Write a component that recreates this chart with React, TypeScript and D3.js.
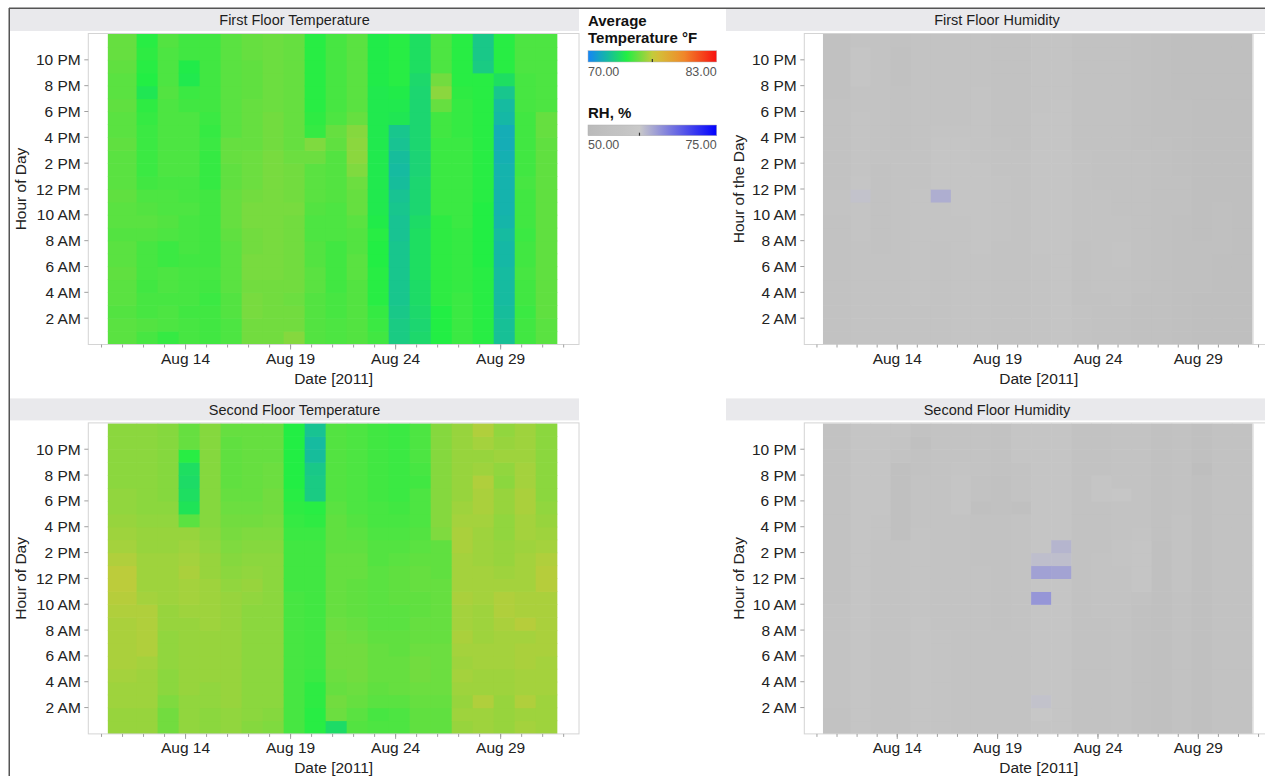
import React from "react";
import * as d3 from "d3";

const FONT = '"Liberation Sans", Arial, Helvetica, sans-serif';

// ---- categories ----
const hours = d3.range(24); // 0..23, hour of day
const dayBins = d3.range(10, 31); // 21 daily bins, Aug 10 .. Aug 30
const DATA_START = 10.3; // first bin starts part-way through Aug 10
const BIN_OFFSET = 0.67; // bins run from d+0.67 to d+1.67
const X_DOMAIN = [9.37, 32.73];

const xMajorDays = [14, 19, 24, 29];
const xMajorLabels = ["Aug 14", "Aug 19", "Aug 24", "Aug 29"];
const xMinorDays = d3.range(10, 33);
const yTickHours = [2, 4, 6, 8, 10, 12, 14, 16, 18, 20, 22];
const yTickLabels = ["2 AM", "4 AM", "6 AM", "8 AM", "10 AM", "12 PM", "2 PM", "4 PM", "6 PM", "8 PM", "10 PM"];

// ---- values: one array per day bin, hour 0 .. 23 ----
const firstFloorTemp: number[][] = [
  [74.8,74.8,74.7,74.8,74.8,74.9,74.8,74.8,74.7,74.8,74.8,74.9,74.8,74.8,74.8,74.9,74.8,74.8,74.9,74.8,74.8,74.9,75.0,75.0],
  [74.5,74.7,74.5,74.5,74.4,74.5,74.5,74.5,74.7,74.8,74.7,74.6,74.4,74.3,74.3,74.3,74.3,74.2,74.1,73.6,73.9,74.0,74.1,74.0],
  [74.2,74.6,74.6,74.5,74.6,74.6,74.3,74.3,74.6,74.7,74.6,74.6,74.5,74.6,74.6,74.6,74.6,74.6,74.6,74.7,74.6,74.6,74.6,74.7],
  [74.5,74.5,74.4,74.5,74.5,74.5,74.4,74.5,74.5,74.5,74.6,74.5,74.5,74.6,74.6,74.6,74.6,74.6,74.4,74.3,73.7,73.8,74.4,74.4],
  [74.4,74.4,74.4,74.3,74.4,74.5,74.4,74.4,74.4,74.4,74.4,74.4,74.2,74.2,74.2,74.3,74.2,74.3,74.4,74.4,74.4,74.4,74.4,74.4],
  [74.6,74.6,74.7,74.7,74.8,74.8,74.8,74.8,74.9,75.0,75.0,75.0,74.9,74.9,75.0,75.0,74.8,74.8,74.8,74.8,74.8,74.8,74.8,74.8],
  [75.2,75.2,75.3,75.3,75.2,75.3,75.3,75.2,75.2,75.3,75.3,75.2,75.1,75.1,75.1,75.0,75.0,75.0,75.0,74.9,74.9,74.9,75.0,75.0],
  [75.2,75.2,75.2,75.2,75.2,75.3,75.3,75.3,75.3,75.3,75.3,75.3,75.3,75.3,75.3,75.2,75.2,75.2,75.1,75.1,75.1,75.1,75.1,75.1],
  [75.5,75.2,75.2,75.1,75.2,75.2,75.2,75.2,75.2,75.2,75.3,75.2,75.2,75.2,75.1,75.0,75.0,75.0,75.0,75.0,75.0,75.0,75.0,75.0],
  [74.7,74.7,74.7,74.7,74.8,74.8,74.7,74.7,74.6,74.6,74.7,74.8,74.8,74.8,75.1,75.4,74.2,74.1,74.0,74.0,74.0,74.0,74.0,74.0],
  [74.6,74.6,74.5,74.5,74.4,74.4,74.4,74.4,74.6,74.6,74.6,74.7,74.7,74.7,74.7,74.9,75.0,74.6,74.5,74.5,74.5,74.5,74.5,74.5],
  [74.7,74.7,74.7,74.7,74.7,74.8,74.8,74.7,74.7,74.8,75.0,75.0,75.1,75.4,75.6,75.6,75.5,75.0,74.8,74.8,74.8,74.8,74.8,74.8],
  [74.4,74.3,74.2,74.0,74.0,74.0,73.9,73.9,74.0,73.8,73.7,73.7,73.7,73.7,73.7,73.7,73.7,73.7,73.7,73.7,73.8,73.8,73.8,73.8],
  [72.6,72.6,72.5,72.4,72.4,72.4,72.4,72.4,72.3,72.3,72.4,72.3,72.1,72.0,72.1,72.3,72.4,73.6,73.7,73.8,74.0,74.0,74.0,74.0],
  [73.1,73.0,73.1,73.2,73.2,73.3,73.3,73.3,73.3,73.2,73.0,73.0,73.0,72.9,72.9,73.0,73.0,73.0,73.0,73.0,73.1,73.3,73.3,73.3],
  [73.9,73.9,73.9,74.1,74.1,74.1,74.1,74.1,74.1,74.1,74.3,74.3,74.3,74.3,74.3,74.3,74.4,74.4,75.0,75.6,75.2,74.6,74.6,74.6],
  [74.3,74.3,74.3,74.3,74.2,74.2,74.2,74.2,74.2,74.3,74.3,74.3,74.3,74.3,74.3,74.3,74.2,74.2,74.2,74.1,74.0,74.0,74.0,74.0],
  [74.0,74.0,74.0,74.0,74.0,74.0,73.9,73.9,73.9,73.9,73.9,74.0,74.0,74.0,74.0,74.0,74.0,74.0,74.0,74.0,74.0,72.6,72.5,72.5],
  [72.2,72.2,72.1,72.0,72.0,72.0,71.9,71.9,72.0,71.8,71.7,71.7,71.7,71.7,71.6,71.5,71.5,71.9,72.0,72.4,73.3,74.0,74.0,74.0],
  [74.4,74.4,74.3,74.4,74.4,74.5,74.4,74.4,74.3,74.4,74.4,74.4,74.5,74.4,74.4,74.4,74.4,74.4,74.5,74.5,74.5,74.6,74.6,74.6],
  [74.8,74.8,74.9,74.9,74.9,74.9,74.9,74.9,74.9,74.9,74.9,74.9,74.9,74.9,74.9,74.9,75.0,75.0,74.6,74.6,74.6,74.6,74.6,74.6],
];

const secondFloorTemp: number[][] = [
  [75.8,75.8,75.9,75.9,76.0,76.1,76.1,76.1,76.1,76.2,76.3,76.4,76.4,76.2,76.0,75.9,75.8,75.7,75.7,75.6,75.6,75.6,75.6,75.6],
  [75.8,75.8,75.9,75.9,75.9,76.0,76.2,76.2,76.2,76.2,76.0,75.9,75.9,75.9,75.8,75.8,75.7,75.6,75.6,75.6,75.6,75.6,75.6,75.6],
  [75.2,75.2,75.4,75.6,75.6,75.7,75.7,75.7,75.8,75.8,75.9,75.9,75.9,75.9,75.8,75.8,75.7,75.6,75.5,75.5,75.5,75.5,75.5,75.5],
  [75.7,75.7,75.7,75.8,75.8,75.8,75.8,75.8,75.8,75.9,76.0,76.0,76.1,76.0,75.9,75.8,74.8,73.5,73.3,73.2,73.3,74.0,75.0,75.0],
  [75.6,75.6,75.7,75.7,75.8,75.8,75.8,75.8,75.9,75.9,75.9,75.9,75.8,75.8,75.7,75.6,75.5,75.5,75.5,75.5,75.5,75.5,75.5,75.5],
  [75.7,75.7,75.8,75.8,75.8,75.8,75.8,75.8,75.8,75.8,75.8,75.7,75.6,75.5,75.4,75.3,75.2,75.1,75.0,74.9,74.9,74.9,74.9,75.0],
  [75.5,75.6,75.6,75.6,75.6,75.6,75.6,75.6,75.6,75.6,75.7,75.8,75.7,75.6,75.5,75.4,75.2,75.1,75.0,75.0,75.0,75.0,75.0,75.0],
  [75.4,75.5,75.6,75.6,75.6,75.6,75.6,75.6,75.6,75.6,75.6,75.6,75.6,75.6,75.5,75.4,75.3,75.2,75.2,75.1,75.1,75.0,75.0,75.0],
  [74.5,74.5,74.5,74.5,74.5,74.5,74.5,74.5,74.5,74.5,74.5,74.4,74.4,74.4,74.4,74.3,74.2,74.1,74.0,73.9,73.9,73.9,73.9,73.9],
  [74.0,74.0,74.1,74.1,74.3,74.4,74.4,74.4,74.4,74.4,74.4,74.4,74.4,74.4,74.4,74.3,74.1,74.0,72.6,72.6,72.5,72.1,72.0,72.3],
  [73.2,75.1,75.2,75.0,75.1,75.2,75.2,75.2,75.1,75.0,75.0,75.0,75.0,75.0,74.9,74.9,74.9,74.8,74.7,74.7,74.7,74.7,74.7,74.7],
  [74.7,74.8,75.0,75.1,75.2,75.2,75.2,75.1,75.0,74.9,74.9,74.9,75.0,75.0,74.9,74.8,74.7,74.6,74.6,74.6,74.6,74.6,74.6,74.6],
  [74.6,74.5,74.8,74.9,75.0,75.0,75.0,74.9,74.8,74.8,74.8,74.8,74.8,74.7,74.7,74.6,74.5,74.5,74.4,74.4,74.4,74.4,74.4,74.4],
  [74.6,74.6,74.8,75.0,75.0,75.0,74.9,74.9,74.8,74.8,74.9,74.9,74.9,74.8,74.7,74.6,74.5,74.4,74.3,74.3,74.3,74.3,74.3,74.3],
  [74.9,74.9,75.0,75.1,75.2,75.2,75.1,75.0,75.0,74.9,74.9,75.0,75.0,74.9,74.8,74.7,74.6,74.6,74.6,74.4,74.5,74.6,74.6,74.6],
  [74.9,74.9,75.0,75.1,75.1,75.1,75.1,75.0,75.0,75.0,75.0,75.0,74.9,74.9,74.9,75.4,75.5,75.5,75.5,75.5,75.5,75.5,75.5,75.5],
  [75.8,75.9,75.8,75.9,76.0,75.9,76.0,76.1,76.0,76.0,76.1,76.0,76.0,76.0,76.1,76.1,76.0,75.9,75.8,75.8,75.8,75.8,75.8,75.8],
  [75.9,75.9,76.2,75.9,75.9,76.0,76.0,75.9,75.9,75.9,76.0,76.0,76.0,75.9,75.9,75.9,76.0,76.1,76.1,76.2,75.9,75.8,76.0,76.2],
  [75.8,75.8,75.8,75.9,75.9,76.0,76.0,76.0,76.1,76.2,76.2,76.0,75.9,75.8,75.8,75.7,75.7,75.8,75.8,75.6,75.7,75.9,75.8,75.7],
  [76.0,75.9,76.2,76.0,76.0,76.1,76.1,76.0,76.3,76.1,76.1,76.0,76.0,76.0,75.9,76.0,76.0,76.1,76.1,76.0,76.0,75.9,75.9,75.9],
  [75.9,75.9,75.9,76.0,76.0,76.0,76.1,76.1,76.1,76.1,76.1,76.3,76.3,76.2,76.0,75.9,75.8,75.7,75.6,75.6,75.6,75.6,75.6,75.6],
];

const firstFloorRH: number[][] = [
  [55.5,55.5,55,55,55.5,55.5,55,55,55.5,55.5,56,56,55.5,55.5,55.5,55,55,55,55,54.5,54.5,54.5,54.5,54.5],
  [56,56,56,56,56,56,56,56,56.5,56.5,56.5,60.5,57,56.5,56.5,56.5,56.5,56.5,56,56,57.5,57.5,57.5,56],
  [56,56,56,56,56,56,56,55.5,55.5,55,55,55,55.5,55.5,56,56,56,56,56,56,56,56,56,56],
  [56,56,56,56,56,56,56,56,56,56,56,56,56,56,56,55.5,55.5,55,55,55,54.5,54.5,54.5,55.5],
  [56,56,56,56.5,56.5,56.5,56.5,56.5,56.5,56.5,56.5,56.5,56,56,56,56,56,56,56,56,56,56,56,56],
  [56,56,56,56,56,56,56,56,56.5,56.5,56.5,62,57,57.5,57.5,57,56.5,56,56,56,56,56,56,56],
  [56.5,56.5,56.5,56.5,56.5,56.5,56.5,56.5,56.5,56.5,57,57,57,57,57,57,56.5,56,56,56,56,56,56,56],
  [56.5,56.5,56.5,56.5,56.5,56.5,56.5,57,57,57,57,57,57,57,56.5,56.5,56.5,56.5,56.5,56.5,56,56,56,56],
  [56,56,56,56,56,56,56,56,56.5,56.5,56.5,56.5,56.5,56,56,56,55.5,55.5,55.5,55.5,55.5,55.5,55.5,55.5],
  [56,56,56,56,56,56,56,56,56,56,56,56,56,56,56,55,55,55.5,55.5,55.5,55.5,55.5,55.5,55.5],
  [56.5,56.5,56.5,56.5,56.5,56.5,56.5,57,57,57,57,57,57,57,57.5,57.5,57,57,56.5,56.5,56.5,56.5,56.5,56.5],
  [57,57,57,57,57,57,57,57,57,57,57.5,57.5,57.5,57.5,57.5,57.5,57,57,57,56.5,56.5,56.5,56.5,56.5],
  [56,56,56,55.5,55.5,55.5,55.5,55.5,56,56,56,56,56,56,56,55.5,55.5,55.5,55.5,55.5,55.5,55.5,55.5,55.5],
  [55.5,55.5,55.5,55.5,56,56,56,56,56,56,56,56,55.5,55.5,55.5,55.5,55.5,55.5,55,55,55,55,55,55],
  [55.5,55.5,55.5,56,56,56,56.5,56.5,56,56,55.5,55.5,55.5,55.5,55,55,55,55,55,55,55,55,55,55],
  [54.5,54.5,54.5,54.5,55,55,55,55,55,55,55,55,55,55,55,54.5,54.5,54.5,54.5,54.5,54.5,54.5,54.5,54.5],
  [54.5,54.5,54.5,54.5,54.5,54.5,54.5,54.5,54.5,54.5,54.5,54.5,54.5,54.5,54.5,54.5,54,54,54,54,54,54,54,54],
  [54,54,54,54,54,54,54,54,54,54,54.5,54.5,54.5,54,54,54,54,54,54,53.5,53.5,53.5,53.5,53.5],
  [53.5,53.5,53.5,53.5,54,54,54,54,53.5,53.5,53.5,53.5,53.5,53.5,53.5,53.5,53,53,53,53.5,53.5,53.5,53.5,53.5],
  [53.5,53.5,53.5,53.5,53.5,53.5,53.5,54,54,54,54,53.5,53.5,53.5,53.5,53.5,53.5,53.5,53.5,53.5,53,53,53,53],
  [53.5,53.5,53.5,53.5,53.5,53.5,53.5,53.5,53.5,53.5,53.5,53.5,53,53,53,53,53,53,53.5,53.5,53.5,53.5,53.5,53.5],
];

const secondFloorRH: number[][] = [
  [55.5,55.5,56,56,56,56,56,56,56,56,55.5,55.5,55.5,55.5,55.5,55.5,55.5,55.5,55.5,55.5,55.5,55.5,55.5,55.5],
  [57,57,57,57,57,57,57,57,57,57,57,57,57,57,57,57,57,57.5,57.5,57.5,57.5,57.5,57.5,57.5],
  [56,56,56,56,56,56,56,56,56,56,56,56,56,56,56,56.5,56.5,57,57,57.5,57.5,57.5,57.5,57.5],
  [56,56,56,56,56,56,56,56,56,56,56,56,56,56,56,54,54,54,54,54,54,56,56.5,57],
  [57.5,57.5,57.5,57.5,57.5,57.5,57,57,57,56.5,56.5,56.5,56.5,56.5,56.5,56.5,56,56,56,56,55.5,55,54,55.5],
  [56.5,56.5,56.5,56.5,56.5,56.5,56.5,56.5,56,56,56,56,56,56,56,56,56,56,56,56,56,56,56,56],
  [56,56,56,56,56,56,56,56,56,56,56,56,56,56,56,56,56,57.5,57.5,57,56.5,56,56,56],
  [56,56,56,56,56,56,56,56,56,56,56,56,56,55.5,55.5,55.5,55.5,54,55.5,55.5,56,56,56,56],
  [56,56,56,56,56,56,56,56,55.5,55.5,55,55,55,55,55,55,55,54.5,54.5,54.5,55,55,55,55],
  [56,56,56,56,56,56,56,56,56,56,56,56,56,56,56,56,56,54,56,56,56,57.5,57.5,57],
  [57.5,58.5,60.5,57.5,57.5,57.5,57.5,57.5,57.5,57,63.8,57.5,63,60.8,57.5,57.5,57.5,57.5,57.5,57,57.5,57.5,57.5,57],
  [57.5,57.5,57.5,57.5,57.5,57.5,57.5,57.5,57.5,57.5,57.5,57.5,62.8,60.8,61.5,57.5,57.5,57.5,57.5,57.5,57.5,57.5,57.5,57.5],
  [55,55,55,55,55,55,55,55,55,55,55.5,55.5,55.5,55,55,55,55,55,55,55,55,55,55,55],
  [55.5,55.5,55.5,55.5,55.5,55.5,55.5,55.5,55.5,56,56,56,56,56,55.5,55.5,55.5,55.5,57.5,57,55.5,55.5,55.5,55.5],
  [56,56,56,56,56,56,56,56,56,56,56,56,56,56.5,56.5,56,56,56,58,56,56,56,56,56],
  [54.5,54.5,54.5,54.5,54.5,54.5,54.5,54.5,54.5,54.5,55,57.5,57.5,57.5,57.5,56.5,56,56,56,56,56,56,56,56],
  [54,54,54,54,54,54,54,54,54,54,54,54,54,54,54,54.5,54.5,54.5,54.5,54.5,54.5,54.5,54.5,54.5],
  [55.5,55.5,55.5,55.5,55.5,55.5,55.5,55.5,55.5,55.5,55.5,56,56,56,56,56,56,55.5,55.5,55.5,55.5,55.5,55.5,55.5],
  [54,54,54,54,54,54,54,54,54,54,54,54,54,54,54,54,54,54,54,54,52.5,54,54,54],
  [55,55,55,55,55,55,55,55,55,55,55.5,55.5,55.5,55.5,55.5,55,55,55,55,55,55,55,55,55],
  [55.5,55.5,55.5,55.5,55.5,55.5,55.5,55.5,55.5,55.5,55.5,55.5,55.5,55.5,55.5,55.5,55.5,55.5,55.5,55.5,55.5,55.5,55.5,55.5],
];

// ---- colour scales ----
const TEMP_RANGE = [70, 83];
const TEMP_LABELS = ["70.00", "83.00"];
const TEMP_MARK = 76.5;
const RH_RANGE = [50, 75];
const RH_LABELS = ["50.00", "75.00"];
const RH_MARK = 60;

const tempColor = d3
  .scaleLinear<string>()
  .domain([70, 71.9, 73.9, 76.7, 79.6, 83])
  .range(["#1585f5", "#15b8a5", "#22ee44", "#cfc83a", "#f08a2a", "#f81010"])
  .interpolate(d3.interpolateRgb)
  .clamp(true);

const rhColor = d3
  .scaleLinear<string>()
  .domain([50, 60, 75])
  .range(["#bababa", "#c9c9c9", "#0000ff"])
  .interpolate(d3.interpolateRgb)
  .clamp(true);

type PanelProps = {
  title: string;
  yTitle: string;
  data: number[][];
  color: (v: number) => string;
  hx0: number;
  hx1: number;
  fx0: number;
  fx1: number;
  top: number;
  yTitleX: number;
  edgeLine?: boolean;
};

function Panel(p: PanelProps) {
  const plotTop = p.top + 25;
  const plotBottom = p.top + 335;
  const x = d3.scaleLinear().domain(X_DOMAIN).range([p.fx0, p.fx1]);
  const y = d3.scaleLinear().domain([0, 24]).range([plotBottom, plotTop]);
  const cells: React.ReactNode[] = [];
  dayBins.forEach((d, i) => {
    const c0 = i === 0 ? DATA_START : d + BIN_OFFSET;
    const c1 = d + 1 + BIN_OFFSET;
    const col = p.data[i] || [];
    hours.forEach((h) => {
      const v = col[h];
      if (v === undefined) return;
      const x0 = x(c0);
      const x1 = x(c1);
      const y0 = y(h + 1);
      const y1 = y(h);
      cells.push(
        <rect
          key={`${i}-${h}`}
          x={x0}
          y={y0}
          width={x1 - x0 + 0.6}
          height={y1 - y0 + 0.6}
          fill={p.color(v)}
        />
      );
    });
  });
  const cx = (p.fx0 + p.fx1) / 2;
  const cy = (plotTop + plotBottom) / 2;
  const cellEnd = x(dayBins[dayBins.length - 1] + 1 + BIN_OFFSET);
  return (
    <g>
      <rect x={p.hx0} y={p.top} width={p.hx1 - p.hx0} height={22} fill="#e9e9ec" />
      <text
        x={(p.hx0 + p.hx1) / 2}
        y={p.top + 11}
        dy="0.36em"
        textAnchor="middle"
        fontSize={14.5}
        fill="#1e1e1e"
      >
        {p.title}
      </text>
      <g>{cells}</g>
      {p.edgeLine && (
        <line x1={cellEnd + 1} x2={cellEnd + 1} y1={plotTop} y2={plotBottom} stroke="#dcdcdc" strokeWidth={1.5} />
      )}
      <rect
        x={p.fx0}
        y={plotTop - 0.5}
        width={p.fx1 - p.fx0}
        height={plotBottom - plotTop + 1}
        fill="none"
        stroke="#d4d4d4"
        strokeWidth={1}
      />
      {xMinorDays.map((d) => (
        <line key={`mn${d}`} x1={x(d)} x2={x(d)} y1={plotBottom + 0.5} y2={plotBottom + 3.5} stroke="#a0a0a0" />
      ))}
      {xMajorDays.map((d, i) => (
        <g key={`mj${d}`}>
          <line x1={x(d)} x2={x(d)} y1={plotBottom + 0.5} y2={plotBottom + 5.5} stroke="#a0a0a0" />
          <text x={x(d)} y={plotBottom + 20} textAnchor="middle" fontSize={15.5} fill="#222">
            {xMajorLabels[i]}
          </text>
        </g>
      ))}
      <text x={cx} y={plotBottom + 40} textAnchor="middle" fontSize={15.5} fill="#222">
        Date [2011]
      </text>
      {yTickHours.map((h, i) => (
        <g key={`yt${h}`}>
          <line x1={p.fx0 - 4} x2={p.fx0} y1={y(h)} y2={y(h)} stroke="#a0a0a0" />
          <text x={p.fx0 - 7.5} y={y(h)} dy="0.36em" textAnchor="end" fontSize={15.5} fill="#222">
            {yTickLabels[i]}
          </text>
        </g>
      ))}
      <text
        transform={`translate(${p.yTitleX},${cy}) rotate(-90)`}
        dy="0.36em"
        textAnchor="middle"
        fontSize={15.5}
        fill="#222"
      >
        {p.yTitle}
      </text>
    </g>
  );
}

function Legend() {
  const lx0 = 588;
  const lx1 = 716.7;
  const tScale = d3.scaleLinear().domain(TEMP_RANGE).range([lx0, lx1]);
  const rScale = d3.scaleLinear().domain(RH_RANGE).range([lx0, lx1]);
  const stops = d3.range(0, 1.0001, 0.05);
  return (
    <g>
      <defs>
        <linearGradient id="tempGrad" x1="0" x2="1" y1="0" y2="0">
          {stops.map((t) => (
            <stop key={t} offset={t} stopColor={tempColor(TEMP_RANGE[0] + t * (TEMP_RANGE[1] - TEMP_RANGE[0]))} />
          ))}
        </linearGradient>
        <linearGradient id="rhGrad" x1="0" x2="1" y1="0" y2="0">
          {stops.map((t) => (
            <stop key={t} offset={t} stopColor={rhColor(RH_RANGE[0] + t * (RH_RANGE[1] - RH_RANGE[0]))} />
          ))}
        </linearGradient>
      </defs>
      <text x={lx0} y={26} fontSize={15} fontWeight="bold" fill="#111">
        Average
      </text>
      <text x={lx0} y={43} fontSize={15} fontWeight="bold" fill="#111">
        Temperature °F
      </text>
      <rect x={lx0} y={50.7} width={lx1 - lx0} height={11.3} fill="url(#tempGrad)" stroke="#b8b8b8" strokeWidth={0.5} />
      <line x1={tScale(TEMP_MARK)} x2={tScale(TEMP_MARK)} y1={59} y2={62} stroke="#333" strokeWidth={1.2} />
      <text x={lx0} y={75.5} fontSize={12.5} fill="#555">
        {TEMP_LABELS[0]}
      </text>
      <text x={lx1} y={75.5} fontSize={12.5} fill="#555" textAnchor="end">
        {TEMP_LABELS[1]}
      </text>

      <text x={lx0} y={117.5} fontSize={15} fontWeight="bold" fill="#111">
        RH, %
      </text>
      <rect x={lx0} y={125} width={lx1 - lx0} height={10.7} fill="url(#rhGrad)" stroke="#b0b0b0" strokeWidth={0.5} />
      <line x1={rScale(RH_MARK)} x2={rScale(RH_MARK)} y1={132.7} y2={135.7} stroke="#333" strokeWidth={1.2} />
      <text x={lx0} y={148.5} fontSize={12.5} fill="#555">
        {RH_LABELS[0]}
      </text>
      <text x={lx1} y={148.5} fontSize={12.5} fill="#555" textAnchor="end">
        {RH_LABELS[1]}
      </text>
    </g>
  );
}

export default function App() {
  const W = 1265;
  const H = 776;
  return (
    <div style={{ position: "absolute", left: 0, top: 0, width: W, height: H, overflow: "hidden", background: "#fff" }}>
      <svg width={W} height={H} style={{ display: "block", fontFamily: FONT }}>
        <rect x={0} y={0} width={W} height={H} fill="#fff" />
        <Panel
          title="First Floor Temperature"
          yTitle="Hour of Day"
          data={firstFloorTemp}
          color={tempColor}
          hx0={10}
          hx1={579}
          fx0={88.3}
          fx1={579}
          top={9}
          yTitleX={20}
        />
        <Panel
          title="Second Floor Temperature"
          yTitle="Hour of Day"
          data={secondFloorTemp}
          color={tempColor}
          hx0={10}
          hx1={579}
          fx0={88.3}
          fx1={579}
          top={398.4}
          yTitleX={20}
        />
        <Panel
          title="First Floor Humidity"
          yTitle="Hour of the Day"
          data={firstFloorRH}
          color={rhColor}
          hx0={726}
          hx1={1268}
          fx0={804.3}
          fx1={1273.2}
          top={9}
          yTitleX={738}
          edgeLine
        />
        <Panel
          title="Second Floor Humidity"
          yTitle="Hour of Day"
          data={secondFloorRH}
          color={rhColor}
          hx0={726}
          hx1={1268}
          fx0={804.3}
          fx1={1273.2}
          top={398.4}
          yTitleX={738}
          edgeLine
        />
        <Legend />
        <line x1={9} x2={W} y1={8.25} y2={8.25} stroke="#555" strokeWidth={1.5} />
        <line x1={9.25} x2={9.25} y1={8} y2={H} stroke="#555" strokeWidth={1.5} />
      </svg>
    </div>
  );
}
